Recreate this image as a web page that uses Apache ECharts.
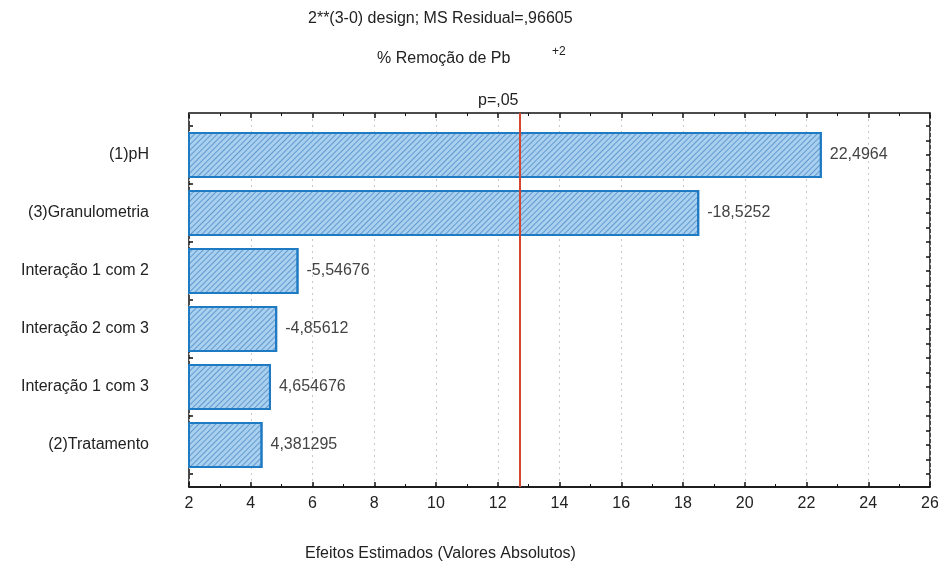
<!DOCTYPE html>
<html>
<head>
<meta charset="utf-8">
<script src="https://cdn.jsdelivr.net/npm/echarts@6/dist/echarts.min.js"></script>
<style>
  html, body { margin: 0; padding: 0; background: #fff; }
  #myChart { width: 938px; height: 562px; }
</style>
</head>
<body>
<div id="myChart"></div>
<script>
// dados
var categorias = ["(1)pH", "(3)Granulometria", "Interação 1 com 2", "Interação 2 com 3", "Interação 1 com 3", "(2)Tratamento"];
var efeitos = [22.4964, -18.5252, -5.54676, -4.85612, 4.654676, 4.381295];
var pLimite = 12.706; // p=,05
var xMin = 2, xMax = 26, xPasso = 2;

var fonte = "Liberation Sans, Arial, sans-serif";

var myChart = echarts.init(document.getElementById("myChart"));

myChart.setOption({
  animation: false,
  title: [
    { text: "2**(3-0) design; MS Residual=,96605", left: 303, top: 6,
      textStyle: { fontSize: 16, fontWeight: "normal", color: "#222", fontFamily: fonte } },
    { text: "% Remoção de Pb", left: 372, top: 46,
      textStyle: { fontSize: 16, fontWeight: "normal", color: "#222", fontFamily: fonte } },
    { text: "+2", left: 547, top: 41,
      textStyle: { fontSize: 12, fontWeight: "normal", color: "#222", fontFamily: fonte } },
    { text: "p=,05", left: 473, top: 88,
      textStyle: { fontSize: 16, fontWeight: "normal", color: "#222", fontFamily: fonte } },
    { text: "Efeitos Estimados (Valores Absolutos)", left: 300, top: 541,
      textStyle: { fontSize: 16, fontWeight: "normal", color: "#222", fontFamily: fonte } }
  ],
  grid: [
    // moldura
    { left: 189, right: 8, top: 113, bottom: 75, outerBoundsMode: "none", containLabel: false,
      show: true, borderColor: "#111", borderWidth: 1.5, backgroundColor: "transparent" },
    // barras
    { left: 189, right: 8, top: 126, bottom: 88, outerBoundsMode: "none", containLabel: false }
  ],
  xAxis: [
    {
      gridIndex: 0, type: "value", min: xMin, max: xMax, interval: xPasso,
      axisLine: { show: true, lineStyle: { color: "#111", width: 1.5 } },
      axisTick: { show: true, inside: true, length: 5, lineStyle: { color: "#111", width: 1.5 } },
      minorTick: { show: true, splitNumber: 2, length: 3, lineStyle: { color: "#111" } },
      splitLine: { show: true, lineStyle: { type: [2, 4], color: "#c8c8c8" } },
      axisLabel: { color: "#222", fontSize: 16, fontFamily: fonte, margin: 9 }
    },
    {
      gridIndex: 0, type: "value", position: "top", min: xMin, max: xMax, interval: xPasso,
      axisLine: { show: false },
      axisTick: { show: true, inside: true, length: 5, lineStyle: { color: "#111", width: 1.5 } },
      minorTick: { show: true, splitNumber: 2, length: 3, lineStyle: { color: "#111" } },
      splitLine: { show: false },
      axisLabel: { show: false }
    },
    { gridIndex: 1, type: "value", min: xMin, max: xMax, show: false }
  ],
  yAxis: [
    { gridIndex: 0, type: "value", min: 0, max: 1, show: false },
    {
      gridIndex: 1, type: "category", data: categorias, inverse: true,
      axisLine: { show: false }, axisTick: { show: false },
      axisLabel: { color: "#222", fontSize: 16, fontFamily: fonte, margin: 40 }
    },
    {
      gridIndex: 1, type: "value", min: 0, max: 24, interval: 1, position: "left",
      axisLine: { show: false },
      axisTick: { show: true, inside: true, length: 4, lineStyle: { color: "#111", width: 1.5 } },
      axisLabel: { show: false }, splitLine: { show: false }
    },
    {
      gridIndex: 1, type: "value", min: 0, max: 24, interval: 1, position: "right",
      axisLine: { show: false },
      axisTick: { show: true, inside: true, length: 4, lineStyle: { color: "#111", width: 1.5 } },
      axisLabel: { show: false }, splitLine: { show: false }
    }
  ],
  series: [
    {
      type: "bar",
      xAxisIndex: 2,
      yAxisIndex: 1,
      barWidth: 46,
      data: efeitos.map(function (v) { return Math.abs(v); }),
      itemStyle: {
        color: "#a9d0ef",
        borderColor: "#1f7ac4",
        borderWidth: 2,
        decal: {
          symbol: "rect",
          symbolSize: 1,
          dashArrayX: [1, 0],
          dashArrayY: [1, 3],
          rotation: -Math.PI / 4,
          color: "rgba(40,110,180,0.55)"
        }
      },
      label: {
        show: true,
        position: "right",
        distance: 8,
        color: "#444",
        fontSize: 16,
        fontFamily: fonte,
        formatter: function (p) {
          return String(efeitos[p.dataIndex]).replace(".", ",");
        }
      }
    },
    {
      type: "scatter",
      xAxisIndex: 0,
      yAxisIndex: 0,
      data: [],
      markLine: {
        silent: true,
        symbol: "none",
        label: { show: false },
        lineStyle: { color: "#d6452e", width: 2, type: "solid" },
        data: [{ xAxis: pLimite }]
      }
    }
  ]
});
</script>
</body>
</html>
